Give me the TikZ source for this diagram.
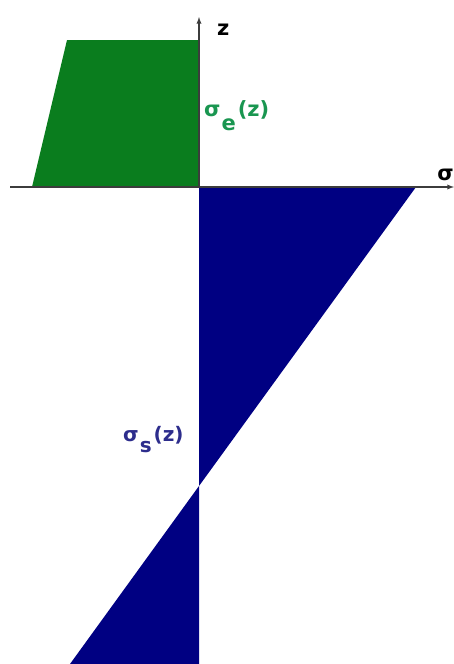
\documentclass[tikz,border=0pt]{standalone}
\usepackage{fontspec}
\setmainfont{DejaVu Sans}
\usetikzlibrary{positioning}
\definecolor{effgreen}{RGB}{10,125,30}
\definecolor{seepblue}{RGB}{0,0,130}
\definecolor{efftext}{RGB}{25,150,80}
\definecolor{seeptext}{RGB}{45,45,140}
\definecolor{axisgray}{RGB}{60,60,60}
\begin{document}
\begin{tikzpicture}[>=latex, x=1pt, y=-1pt, font=\fontsize{21}{25}\selectfont\bfseries]
    % Effective and seepage stress along the depth axis
    \tikzset{axis/.style={->, line width=1.3pt, draw=axisgray}, effective/.style={fill=effgreen}, seepage/.style={fill=seepblue}, stresslabel/.style={inner sep=0pt, anchor=base west}}
    \useasboundingbox (0,0) rectangle (454,664);
    \coordinate (origin) at (199,187); \coordinate (zend) at (199,17);
    \coordinate (sigmastart) at (10,187); \coordinate (sigmaend) at (454,187);
    \coordinate (zerostress) at (199,486);
    \fill[effective] (67,40) -- (199,40) -- (origin) -- (32,187) -- cycle;
    \fill[seepage] (origin) -- (416,187) -- (zerostress) -- cycle;
    \fill[seepage] (zerostress) -- (199,664) -- (70,664) -- cycle;
    \draw[axis] (sigmastart) -- (sigmaend);
    \draw[axis] (origin) -- (zend);
    \node[inner sep=0pt, anchor=base west] (zlabel) at (217,35) {z};
    \node[inner sep=0pt, anchor=base east] (sigmalabel) at (454,180) {σ};
    \node[stresslabel, text=efftext] (efflabel) at (204,116) {σ\hspace{1pt}\raisebox{-14pt}{e}\hspace{2pt}(z)};
    \node[stresslabel, text=seeptext, font=\fontsize{20}{24}\selectfont\bfseries] (seeplabel) at (123,441) {σ\hspace{1pt}\raisebox{-11pt}{s}\hspace{2pt}(z)};
\end{tikzpicture}
\end{document}
